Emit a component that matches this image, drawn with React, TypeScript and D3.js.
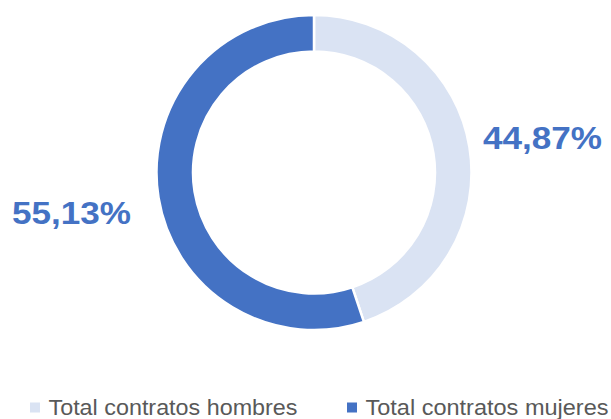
import React from "react";
import * as d3 from "d3";

const categories = ["Total contratos hombres", "Total contratos mujeres"];
const values = [44.87, 55.13];
const labels = ["44,87%", "55,13%"];
const colors = ["#DAE3F3", "#4472C4"];

const W = 611;
const H = 419;
const cx = 314;
const cy = 172.5;
const outerR = 157.5;
const innerR = 121;

export default function App() {
  const pie = d3.pie<number>().sort(null).value((d) => d);
  const arcs = pie(values);
  const arc = d3.arc<d3.PieArcDatum<number>>().innerRadius(innerR).outerRadius(outerR);
  const labelPos = [
    { x: 483, y: 148.5 },
    { x: 12, y: 223.5 },
  ];
  const legendX = [30, 347];
  return (
    <svg
      width={W}
      height={H}
      style={{ position: "absolute", left: 0, top: 0, background: "#fff" }}
      fontFamily="'Liberation Sans', Arial, sans-serif"
    >
      <g transform={`translate(${cx},${cy})`}>
        {arcs.map((a, i) => (
          <path key={i} d={arc(a) || ""} fill={colors[i]} stroke="#fff" strokeWidth={2.5} />
        ))}
      </g>
      {labels.map((t, i) => (
        <text
          key={i}
          x={labelPos[i].x}
          y={labelPos[i].y}
          fontSize={32}
          fontWeight="bold"
          fill="#4472C4"
          textLength={119}
          lengthAdjust="spacingAndGlyphs"
        >
          {t}
        </text>
      ))}
      {categories.map((c, i) => (
        <g key={c}>
          <rect x={legendX[i]} y={402.5} width={10} height={10} fill={colors[i]} />
          <text
            x={legendX[i] + 18.5}
            y={414.5}
            fontSize={21.5}
            fill="#595959"
            textLength={i === 0 ? 249 : 243}
            lengthAdjust="spacingAndGlyphs"
          >
            {c}
          </text>
        </g>
      ))}
    </svg>
  );
}
